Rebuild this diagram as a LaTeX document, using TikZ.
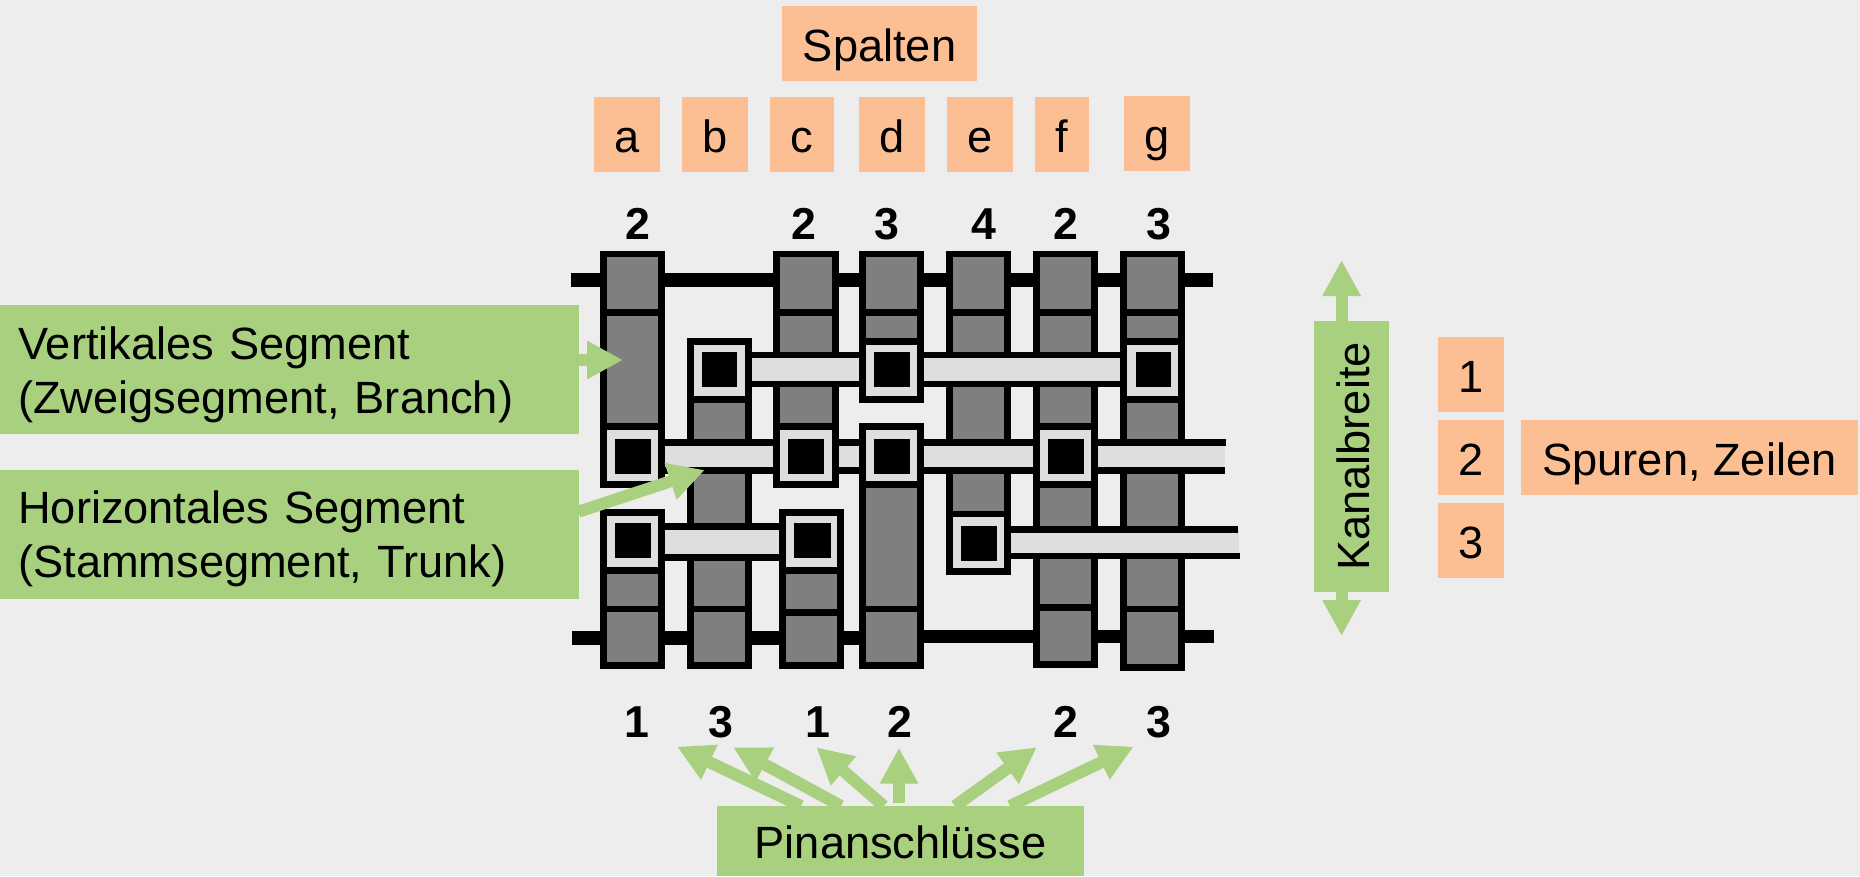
\documentclass[tikz,border=0pt]{standalone}
\usepackage{fontspec}
\setmainfont{Liberation Sans}
\usetikzlibrary{arrows.meta}
\definecolor{pagegray}{HTML}{EDEDED}
\definecolor{notegreen}{HTML}{A8D07F}
\definecolor{noteorange}{HTML}{FBBF93}
\definecolor{metalgray}{HTML}{7F7F7F}
\definecolor{tracklight}{HTML}{DEDEDE}
\tikzset{
  labeltext/.style={font=\fontsize{45.2}{54}\selectfont,inner sep=0pt,text height=35pt,text depth=0pt},
  orangebox/.style={labeltext,fill=noteorange,minimum height=75pt},
  greenbox/.style={font=\fontsize{45.2}{54}\selectfont,fill=notegreen,inner sep=0pt,text height=40pt,text depth=61pt},
  pincount/.style={font=\fontsize{44.7}{54}\selectfont\bfseries,inner sep=0pt},
  metal/.style={draw=black,line width=6.7pt,fill=metalgray},
  viabox/.style={draw=black,line width=6.7pt,fill=tracklight},
  trackedge/.style={draw=black,line width=6.7pt},
  railline/.style={draw=black,line width=13.4pt},
  notearrow/.style={draw=notegreen,line width=12pt,-{Triangle[length=36pt,width=36pt]}}
}
\begin{document}
\begin{tikzpicture}[x=1pt,y=-1pt]
\useasboundingbox (0,0) rectangle (1860,876);
\fill[pagegray] (0,0) rectangle (1860,876);
% rails
\draw[railline] (571,280) -- (1213,280);
\draw[railline] (572,638) -- (923,638);
\draw[railline] (923,636.5) -- (1214,636.5);
% column a
\draw[metal] (603.3,254) rectangle (661.3,312.3);
\draw[metal] (603.3,312.3) rectangle (661.3,426.7);
\draw[metal] (603.3,570.4) rectangle (661.3,609);
\draw[metal] (603.3,609) rectangle (661.3,665.4);
% column b
\draw[metal] (690.3,399.3) rectangle (748.3,609);
\draw[metal] (690.3,609) rectangle (748.3,665.4);
% column c
\draw[metal] (776.8,254) rectangle (835.3,312.3);
\draw[metal] (776.8,312.3) rectangle (835.3,426.7);
\draw[metal] (782.5,570.4) rectangle (840.5,612.7);
\draw[metal] (782.5,612.7) rectangle (840.5,665.4);
% column d
\draw[metal] (862.3,254) rectangle (920.3,312.3);
\draw[metal] (862.3,312.3) rectangle (920.3,341.3);
\draw[metal] (862.3,484.7) rectangle (920.3,609);
\draw[metal] (862.3,609) rectangle (920.3,665.4);
% column e
\draw[metal] (949.3,254) rectangle (1007.3,312.3);
\draw[metal] (949.3,312.3) rectangle (1007.3,514);
% column f
\draw[metal] (1036.8,254) rectangle (1094.8,312.3);
\draw[metal] (1036.8,312.3) rectangle (1094.8,426.7);
\draw[metal] (1036.8,484.7) rectangle (1094.8,607.5);
\draw[metal] (1036.8,607.5) rectangle (1094.8,664.4);
% column g
\draw[metal] (1123.8,254) rectangle (1181.8,312.3);
\draw[metal] (1123.8,312.3) rectangle (1181.8,341.3);
\draw[metal] (1123.8,399.3) rectangle (1181.8,609);
\draw[metal] (1123.8,609) rectangle (1181.8,667.4);
% tracks
\fill[tracklight] (748,355) rectangle (1124,384);
\draw[trackedge] (748,355) -- (1124,355);
\draw[trackedge] (748,384) -- (1124,384);
\fill[tracklight] (661,442.4) rectangle (1224.5,470.7);
\draw[trackedge] (661,442.4) -- (1226,442.4);
\draw[trackedge] (661,470.7) -- (1225,470.7);
\fill[tracklight] (661,526.2) rectangle (783,557.2);
\draw[trackedge] (661,526.2) -- (783,526.2);
\draw[trackedge] (661,557.2) -- (783,557.2);
\fill[tracklight] (1007,529.4) rectangle (1238.5,555.9);
\draw[trackedge] (1007,529.4) -- (1237.5,529.4);
\draw[trackedge] (1007,555.9) -- (1240,555.9);
% contacts
\draw[viabox] (603.3,426.7) rectangle (661.3,484.7);
\fill (615,439) rectangle (650.7,474);
\draw[viabox] (603.3,512.4) rectangle (661.3,570.4);
\fill (615,522.7) rectangle (651,558.3);
\draw[viabox] (690.3,341.3) rectangle (748.3,399.3);
\fill (701.7,351.7) rectangle (736.7,387.3);
\draw[viabox] (776.8,426.7) rectangle (835.3,484.7);
\fill (787.5,439) rectangle (823.5,474);
\draw[viabox] (782.5,512.4) rectangle (840.5,570.4);
\fill (794,522.7) rectangle (830.5,558.3);
\draw[viabox] (862.3,341.3) rectangle (920.3,399.3);
\fill (874.3,351.7) rectangle (910.3,387.3);
\draw[viabox] (862.3,426.7) rectangle (920.3,484.7);
\fill (874.3,439) rectangle (910.3,474);
\draw[viabox] (949.3,514) rectangle (1007.3,571.7);
\fill (961.3,526) rectangle (997,561.3);
\draw[viabox] (1036.8,426.7) rectangle (1094.8,484.7);
\fill (1048.3,439) rectangle (1083.5,474);
\draw[viabox] (1123.8,341.3) rectangle (1181.8,399.3);
\fill (1135.5,351.7) rectangle (1170.5,387.3);
% column labels
\node[orangebox,minimum width=195pt] (spalten) at (879.5,43.5) {Spalten};
\node[orangebox,minimum width=66pt] (cola) at (627,134.5) {a};
\node[orangebox,minimum width=66pt] (colb) at (715,134.5) {b};
\node[orangebox,minimum width=64pt] (colc) at (802,134.5) {c};
\node[orangebox,minimum width=66pt] (cold) at (892,134.5) {d};
\node[orangebox,minimum width=66pt] (cole) at (980,134.5) {e};
\node[orangebox,minimum width=54pt] (colf) at (1062,134.5) {f};
\node[orangebox,minimum width=66pt] (colg) at (1157,133.5) {g};
% track labels
\node[orangebox,minimum width=66pt] (row1) at (1471,374.5) {1};
\node[orangebox,minimum width=66pt] (row2) at (1471,457.5) {2};
\node[orangebox,minimum width=66pt] (row3) at (1471,540.5) {3};
\node[orangebox,minimum width=337pt] (spuren) at (1689.5,457.5) {Spuren, Zeilen};
% pin counts
\node[pincount] (topa) at (638,224) {2};
\node[pincount] (topc) at (803.7,224) {2};
\node[pincount] (topd) at (887,224) {3};
\node[pincount] (tope) at (984,224) {4};
\node[pincount] (topf) at (1065.7,224) {2};
\node[pincount] (topg) at (1159,224) {3};
\node[pincount] (bota) at (636.8,722) {1};
\node[pincount] (botb) at (720.7,722) {3};
\node[pincount] (botc) at (818,722) {1};
\node[pincount] (botd) at (900,722) {2};
\node[pincount] (botf) at (1065.8,722) {2};
\node[pincount] (botg) at (1159,722) {3};
% green notes
\node[greenbox,minimum width=578.5pt,minimum height=129pt,text width=542pt,align=left] (vertical) at (289.25,369.5) {Vertikales Segment\\(Zweigsegment, Branch)};
\node[greenbox,minimum width=578.5pt,minimum height=129pt,text width=542pt,align=left] (horizontal) at (289.25,534.3) {Horizontales Segment\\(Stammsegment, Trunk)};
\node[labeltext,fill=notegreen,minimum width=271pt,minimum height=75pt,rotate=90] (kanal) at (1351.5,456.5) {Kanalbreite};
\node[labeltext,fill=notegreen,minimum width=367pt,minimum height=70pt] (pins) at (900.5,841) {Pinanschlüsse};
% arrow ends
\coordinate (branchtip) at (623,360);
\coordinate (trunktail) at (578.5,511.7);
\coordinate (trunktip) at (704.8,470);
\coordinate (kanaltop) at (1341.6,260);
\coordinate (kanalbot) at (1341.6,636);
\coordinate (pintail1) at (801,806);
\coordinate (pintip1) at (677,746.7);
\coordinate (pintail2) at (841,806);
\coordinate (pintip2) at (733.2,747.3);
\coordinate (pintail3) at (883.7,806);
\coordinate (pintip3) at (816.3,747.3);
\coordinate (pintail4) at (899,802.7);
\coordinate (pintip4) at (899,747.7);
\coordinate (pintail5) at (955,806);
\coordinate (pintip5) at (1036.8,747.3);
\coordinate (pintail6) at (1010,806);
\coordinate (pintip6) at (1133.7,746.7);
% arrows
\draw[notearrow] (vertical.east |- branchtip) -- (branchtip);
\draw[notearrow] (trunktail) -- (trunktip);
\draw[notearrow] (kanaltop |- kanal.east) -- (kanaltop);
\draw[notearrow] (kanalbot |- kanal.west) -- (kanalbot);
\draw[notearrow] (pintail1) -- (pintip1);
\draw[notearrow] (pintail2) -- (pintip2);
\draw[notearrow] (pintail3) -- (pintip3);
\draw[notearrow] (pintail4) -- (pintip4);
\draw[notearrow] (pintail5) -- (pintip5);
\draw[notearrow] (pintail6) -- (pintip6);
\end{tikzpicture}
\end{document}
